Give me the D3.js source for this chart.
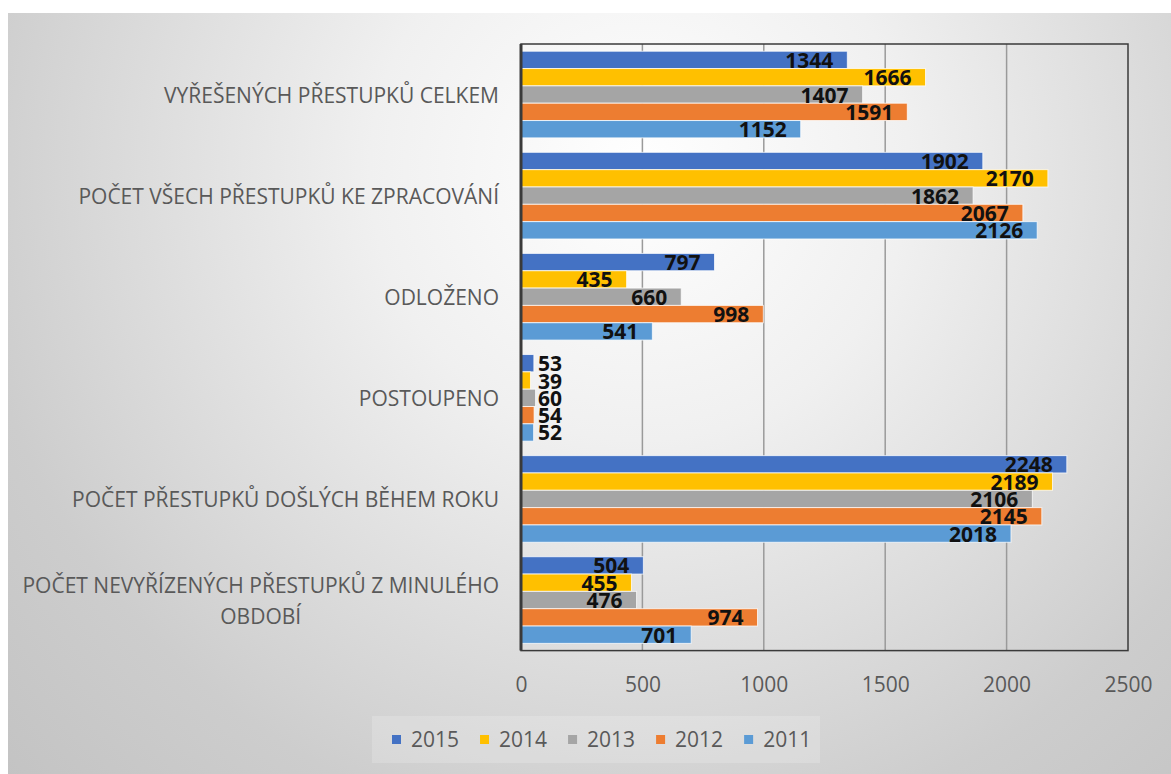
<!DOCTYPE html>
<html><head><meta charset="utf-8">
<script src="https://cdnjs.cloudflare.com/ajax/libs/d3/7.8.5/d3.min.js"></script>
<style>html,body{margin:0;padding:0;background:#fff;}svg{display:block;font-family:"Open Sans",sans-serif;}</style>
</head><body>
<svg id="chart" width="1171" height="774"></svg>
<script>
const categories = [
  "VYŘEŠENÝCH PŘESTUPKŮ CELKEM",
  "POČET VŠECH PŘESTUPKŮ KE ZPRACOVÁNÍ",
  "ODLOŽENO",
  "POSTOUPENO",
  "POČET PŘESTUPKŮ DOŠLÝCH BĚHEM ROKU",
  "POČET NEVYŘÍZENÝCH PŘESTUPKŮ Z MINULÉHO OBDOBÍ"
];
const seriesNames = ["2015", "2014", "2013", "2012", "2011"];
const values2015 = [1344, 1902, 797, 53, 2248, 504];
const values2014 = [1666, 2170, 435, 39, 2189, 455];
const values2013 = [1407, 1862, 660, 60, 2106, 476];
const values2012 = [1591, 2067, 998, 54, 2145, 974];
const values2011 = [1152, 2126, 541, 52, 2018, 701];
const seriesColors = ["#4472C4", "#FFC000", "#A5A5A5", "#ED7D31", "#5B9BD5"];
const xTicks = [0, 500, 1000, 1500, 2000, 2500];

const seriesValues = [values2015, values2014, values2013, values2012, values2011];

const svg = d3.select("#chart");
const defs = svg.append("defs");
const grad = defs.append("radialGradient").attr("id", "bg")
  .attr("gradientUnits", "userSpaceOnUse")
  .attr("cx", 640).attr("cy", 170).attr("r", 900);
grad.append("stop").attr("offset", "0%").attr("stop-color", "#ffffff");
grad.append("stop").attr("offset", "30%").attr("stop-color", "#f0f0f0");
grad.append("stop").attr("offset", "75%").attr("stop-color", "#cdcdcd");
grad.append("stop").attr("offset", "100%").attr("stop-color", "#c2c2c2");

svg.append("rect").attr("x", 8).attr("y", 13).attr("width", 1163).attr("height", 761)
  .attr("fill", "url(#bg)");

const plot = {left: 521, right: 1128, top: 44, bottom: 650.6};
const x = d3.scaleLinear().domain([0, 2500]).range([plot.left, plot.right]);
const y0 = d3.scaleBand().domain(categories).range([plot.top, plot.bottom])
  .paddingInner(0.143).paddingOuter(0.0715);
const y1 = d3.scaleBand().domain(seriesNames).range([0, y0.bandwidth()]);

// gridlines
svg.append("g").selectAll("line").data(xTicks.filter(t => t > 0 && t < 2500)).join("line")
  .attr("x1", d => x(d)).attr("x2", d => x(d))
  .attr("y1", plot.top).attr("y2", plot.bottom)
  .attr("stroke", "#9a9a9a").attr("stroke-width", 1.5);

// bars
const groups = svg.append("g").selectAll("g").data(categories).join("g")
  .attr("transform", d => `translate(0,${y0(d)})`);
groups.each(function(cat, ci) {
  const g = d3.select(this);
  const rows = seriesNames.map((s, si) => ({s, si, v: seriesValues[si][ci]}));
  g.selectAll("rect").data(rows).join("rect")
    .attr("x", x(0)).attr("y", d => y1(d.s))
    .attr("width", d => x(d.v) - x(0)).attr("height", y1.bandwidth())
    .attr("fill", d => seriesColors[d.si])
    .attr("stroke", "rgba(255,255,255,0.75)").attr("stroke-width", 1);
  const labels = g.selectAll("text").data(rows).join("text")
    .attr("font-weight", "bold").attr("font-size", 21).attr("fill", "#111")
    .attr("y", d => y1(d.s) + y1.bandwidth() / 2 + 8)
    .text(d => d.v);
  labels.each(function(d) {
    const w = this.getComputedTextLength();
    const xs = Math.max(x(d.v) - 14 - w, x(0) + 17);
    d3.select(this).attr("x", xs);
  });
});

// plot border
svg.append("rect").attr("x", plot.left).attr("y", plot.top)
  .attr("width", plot.right - plot.left).attr("height", plot.bottom - plot.top)
  .attr("fill", "none").attr("stroke", "#3a3a3a").attr("stroke-width", 1.5);
svg.append("line").attr("x1", plot.left).attr("x2", plot.left)
  .attr("y1", plot.top).attr("y2", plot.bottom)
  .attr("stroke", "#3a3a3a").attr("stroke-width", 3);

// x axis tick labels
const xAxis = d3.axisBottom(x).tickValues(xTicks).tickSize(0).tickPadding(0).tickFormat(d3.format("d"));
const xg = svg.append("g").attr("transform", `translate(0,${plot.bottom})`).call(xAxis);
xg.select(".domain").remove();
xg.selectAll("text").attr("font-family", "Open Sans").attr("font-size", 21)
  .attr("fill", "#595959").attr("dy", null).attr("y", 41);

// category labels
const wrapWidth = 480;
const catG = svg.append("g");
categories.forEach(cat => {
  const cy = y0(cat) + y0.bandwidth() / 2;
  const t = catG.append("text").attr("font-size", 21).attr("fill", "#595959")
    .attr("text-anchor", "end").attr("x", 499);
  const words = cat.split(" ");
  let lines = [], cur = [];
  const probe = t.append("tspan");
  words.forEach(w => {
    const test = cur.concat([w]).join(" ");
    probe.text(test);
    if (probe.node().getComputedTextLength() > wrapWidth && cur.length) {
      lines.push(cur.join(" ")); cur = [w];
    } else cur.push(w);
  });
  lines.push(cur.join(" "));
  probe.remove();
  if (lines.length === 1) {
    t.attr("y", cy + 8).text(lines[0]);
  } else {
    // measure widest line for centred block
    let maxW = 0;
    lines.forEach(l => { probe.text(l); });
    const tmp = catG.append("text").attr("font-size", 21);
    lines.forEach(l => { tmp.text(l); maxW = Math.max(maxW, tmp.node().getComputedTextLength()); });
    tmp.remove();
    const lh = 31;
    t.attr("text-anchor", "middle").attr("x", 499 - maxW / 2);
    lines.forEach((l, i) => {
      t.append("tspan").attr("x", 499 - maxW / 2)
        .attr("y", cy + 8 + (i - (lines.length - 1) / 2) * lh).text(l);
    });
  }
});

// legend
const legendBox = svg.append("rect").attr("x", 372).attr("y", 716).attr("width", 448).attr("height", 47)
  .attr("fill", "rgba(255,255,255,0.18)");
const lg = svg.append("g");
let lx = 392;
seriesNames.forEach((s, i) => {
  lg.append("rect").attr("x", lx).attr("y", 735).attr("width", 9).attr("height", 9)
    .attr("fill", seriesColors[i]);
  const t = lg.append("text").attr("x", lx + 19).attr("y", 747).attr("font-size", 21)
    .attr("fill", "#595959").text(s);
  lx += 19 + t.node().getComputedTextLength() + 21;
});
</script>
</body></html>
